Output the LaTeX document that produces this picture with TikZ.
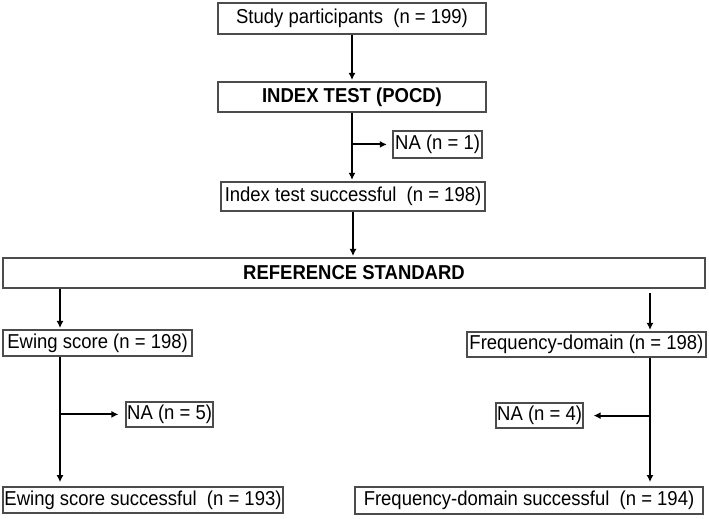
\documentclass[tikz,border=0pt]{standalone}
\usepackage{fontspec}
\setmainfont[FakeStretch=0.92]{Liberation Sans}
\usetikzlibrary{arrows.meta}
\begin{document}
\begin{tikzpicture}[font=\fontsize{14.3}{16}\selectfont,
  box/.style={draw=black!70, line width=.9pt, inner sep=0pt, align=center},
  arr/.style={-{Latex[length=5pt,width=5pt]}, line width=1.3pt, shorten >=1pt}]
       \useasboundingbox (0,0) rectangle (17.725,-12.95);
       \node (study) at (8.8,-.4625) [box, minimum width=6.7cm, minimum height=.775cm] {Study participants\ \ (n = 199)};
       \node (index) at (8.8,-2.425) [box, minimum width=6.7cm, minimum height=.75cm] {\bfseries INDEX TEST (POCD)};
       \node (na1) at (10.94,-3.61) [box, minimum width=2.225cm, minimum height=.675cm] {NA (n = 1)};
       \node (indexok) at (8.825,-4.91) [box, minimum width=6.6cm, minimum height=.725cm] {Index test successful\ \ (n = 198)};
       \draw [arr] (study.south) -- (index.north);
       \draw [arr] (index.south) -- (index.south |- indexok.north);
       \draw [arr, shorten >=4pt] (index.south |- na1.west) -- (na1.west);
       \node (ref) at (8.85,-6.825) [box, minimum width=17.55cm, minimum height=.75cm] {\bfseries REFERENCE STANDARD};
       \draw [arr] (indexok.south) -- (indexok.south |- ref.north);
       \coordinate (lx) at (1.5,0); \coordinate (rx) at (16.25,0);
       \node (ewing) at (2.44,-8.575) [box, minimum width=4.725cm, minimum height=.65cm] {Ewing score (n = 198)};
       \node (freq) at (14.66,-8.61) [box, minimum width=5.975cm, minimum height=.625cm] {Frequency-domain (n = 198)};
       \draw [arr] (ref.south -| lx) -- (ewing.north -| lx);
       \draw [arr, shorten <=3pt] (ref.south -| rx) -- (freq.north -| rx);
       \node (na5) at (4.24,-10.36) [box, minimum width=2.175cm, minimum height=.625cm] {NA (n = 5)};
       \node (na4) at (13.49,-10.39) [box, minimum width=2.175cm, minimum height=.625cm] {NA (n = 4)};
       \node (ewingok) at (3.575,-12.5) [box, minimum width=7cm, minimum height=.65cm] {Ewing score successful\ \ (n = 193)};
       \node (freqok) at (13.225,-12.51) [box, minimum width=8.7cm, minimum height=.675cm] {Frequency-domain successful\ \ (n = 194)};
       \draw [arr, shorten >=3pt] (ewing.south -| lx) -- (ewingok.north -| lx);
       \draw [arr, shorten >=5pt] (lx |- na5.west) -- (na5.west);
       \draw [arr, shorten >=3pt] (freq.south -| rx) -- (freqok.north -| rx);
       \draw [arr, shorten >=7pt] (rx |- na4.east) -- (na4.east);
\end{tikzpicture}
\end{document}
